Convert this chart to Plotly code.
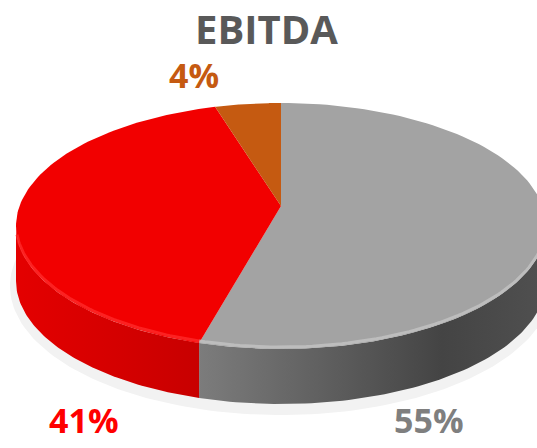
import numpy as np
import plotly.graph_objects as go

# ---- data ----
categories = ["Segment A", "Segment B", "Segment C"]
values = [55, 41, 4]
label_text = ["55%", "41%", "4%"]
title_text = "EBITDA"

# ---- style ----
top_colors = ["#a3a3a3", "#f20000", "#c55a11"]
side_scales = [
    [[0, "#7c7c7c"], [0.7, "#444444"], [1, "#505050"]],
    [[0, "#e40000"], [1, "#c80000"]],
    [[0, "#9a4510"], [1, "#9a4510"]],
]
rim_colors = ["#c4c4c4", "#ff2a2a", "#d0701f"]
label_colors = ["#7f7f7f", "#ff0000", "#c55a11"]
label_pos = [(429, 420), (84, 420), (194, 75)]

W, H = 537, 448
CX, CY, A, B = 281, 226, 265, 123
VX, VY = 281, 206
DEPTH = 55


def pt(theta_deg, dy=0.0):
    t = np.radians(theta_deg)
    return CX + A * np.sin(t), CY - B * np.cos(t) + dy


fig = go.Figure()

# soft shadow
ts = np.linspace(0, 360, 200)
sx = CX + (A + 6) * np.sin(np.radians(ts))
sy = CY + DEPTH + 5 - (B + 6) * np.cos(np.radians(ts))
fig.add_trace(go.Scatter(x=sx, y=sy, fill="toself", mode="lines",
                         line=dict(width=0), fillcolor="#f2f2f2",
                         hoverinfo="skip", showlegend=False))

total = sum(values)
bounds = []
start = 0.0
for v in values:
    end = start + v / total * 360.0
    bounds.append((start, end))
    start = end

# side walls (visible front half: 90..270 deg)
for i, (s, e) in enumerate(bounds):
    lo, hi = max(s, 90.0), min(e, 270.0)
    if hi <= lo:
        continue
    th = np.linspace(lo, hi, 80)
    xt, yt = pt(th)
    xb, yb = pt(th[::-1], DEPTH)
    xs = np.concatenate([xt, xb, xt[:1]])
    ys = np.concatenate([yt, yb, yt[:1]])
    fig.add_trace(go.Scatter(
        x=xs, y=ys, fill="toself", mode="lines", line=dict(width=0),
        fillgradient=dict(type="horizontal", colorscale=side_scales[i]),
        hoverinfo="skip", showlegend=False))

# top faces
for i, (s, e) in enumerate(bounds):
    th = np.linspace(s, e, 120)
    xa, ya = pt(th)
    xs = np.concatenate([[VX], xa, [VX]])
    ys = np.concatenate([[VY], ya, [VY]])
    fig.add_trace(go.Scatter(
        x=xs, y=ys, fill="toself", mode="lines", line=dict(width=0),
        fillcolor=top_colors[i], name=categories[i],
        hoverinfo="name", showlegend=False))

# bevel highlight along the front rim
for i, (s, e) in enumerate(bounds):
    lo, hi = max(s, 95.0), min(e, 265.0)
    if hi <= lo:
        continue
    th = np.linspace(lo, hi, 80)
    xr, yr = pt(th, -2)
    fig.add_trace(go.Scatter(
        x=xr, y=yr, mode="lines", line=dict(width=3, color=rim_colors[i]),
        opacity=0.8, hoverinfo="skip", showlegend=False))

# percentage labels
for i, (lx, ly) in enumerate(label_pos):
    fig.add_annotation(x=lx, y=ly, text=label_text[i], showarrow=False,
                       font=dict(family="Open Sans", size=34,
                                 color=label_colors[i], weight="bold"),
                       xanchor="center", yanchor="middle")

fig.add_annotation(x=266, y=28, text=title_text, showarrow=False,
                   font=dict(family="Open Sans", size=40, color="#595959",
                             weight="bold"),
                   xanchor="center", yanchor="middle")

fig.update_layout(
    width=W, height=H, margin=dict(l=0, r=0, t=0, b=0),
    paper_bgcolor="white", plot_bgcolor="white",
    xaxis=dict(range=[0, W], visible=False, fixedrange=True),
    yaxis=dict(range=[H, 0], visible=False, fixedrange=True),
)
fig.write_html(
    "out.html",
    config={"displayModeBar": False},
    post_script="document.body.style.margin='0';"
                "document.body.style.overflow='hidden';",
)
